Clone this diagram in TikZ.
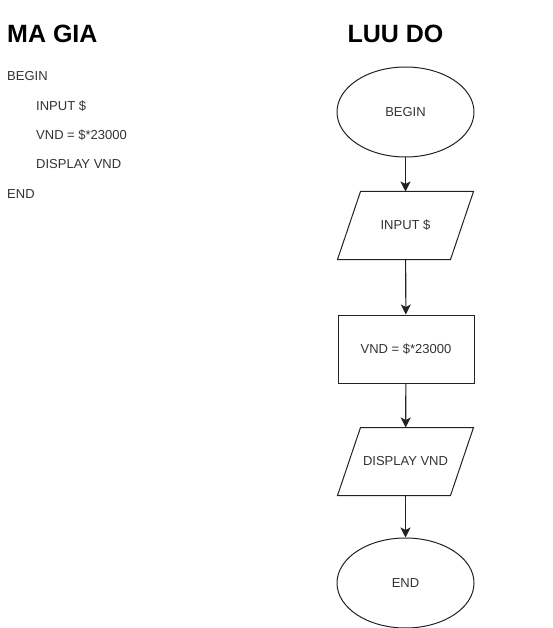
\documentclass[tikz,border=0pt]{standalone}
\usepackage{fontspec}
\setmainfont{Liberation Sans}
\usetikzlibrary{shapes.geometric,arrows.meta}
\definecolor{txt}{HTML}{333333}
\definecolor{ln}{HTML}{222222}
\begin{document}
\begin{tikzpicture}[x=1pt,y=-1pt,
  title/.style={font=\fontsize{25}{25}\selectfont\bfseries, text=black, inner sep=0pt},
  code/.style={font=\fontsize{13}{13}\selectfont, text=txt, anchor=west, inner sep=0pt},
  shp/.style={line width=1pt, font=\fontsize{13}{13}\selectfont, text=txt},
  term/.style={shp, draw=ln, ellipse, minimum width=137pt, minimum height=90pt, inner sep=0pt},
  io/.style={shp, rectangle, minimum width=112pt, minimum height=67pt, inner sep=0pt},
  ioline/.style={draw=ln, line width=1pt, line join=miter},
  proc/.style={shp, draw=ln, rectangle, minimum width=136pt, minimum height=68pt, inner sep=0pt},
  flow/.style={draw=ln, line width=1.1pt, -{Stealth[length=10pt,width=10pt,inset=2.5pt]}}]
\useasboundingbox (0,0) rectangle (552,628);
\fill[white] (0,0) rectangle (552,628);

% pseudocode column
\node[title, anchor=west] (t1) at (7,34) {MA GIA};
\node[code] (c1) at (7,76) {BEGIN};
\node[code] (c2) at (36,106) {INPUT \$};
\node[code] (c3) at (36,135) {VND = \$*23000};
\node[code] (c4) at (36,164) {DISPLAY VND};
\node[code] (c5) at (7,194) {END};

% flowchart column
\node[title] (t2) at (395.5,34) {LUU DO};
\node[term] (begin) at (405.5,112) {BEGIN};
\node[io] (input) at (405.5,225.5) {INPUT \$};
\node[proc] (calc) at (406,349) {VND = \$*23000};
\node[io] (disp) at (405.5,461.5) {DISPLAY VND};
\node[term] (end) at (405.5,583) {END};

% slanted input/output outlines
\foreach \n in {input,disp}
  \draw[ioline] ([xshift=11.5pt]\n.north west) -- ([xshift=11.5pt]\n.north east)
    -- ([xshift=-11.5pt]\n.south east) -- ([xshift=-11.5pt]\n.south west) -- cycle;

\draw[flow] (begin) -- (input);
\draw[flow] (input) -- (calc);
\draw[flow] (calc) -- (disp);
\draw[flow] (disp) -- (end);
\end{tikzpicture}
\end{document}
